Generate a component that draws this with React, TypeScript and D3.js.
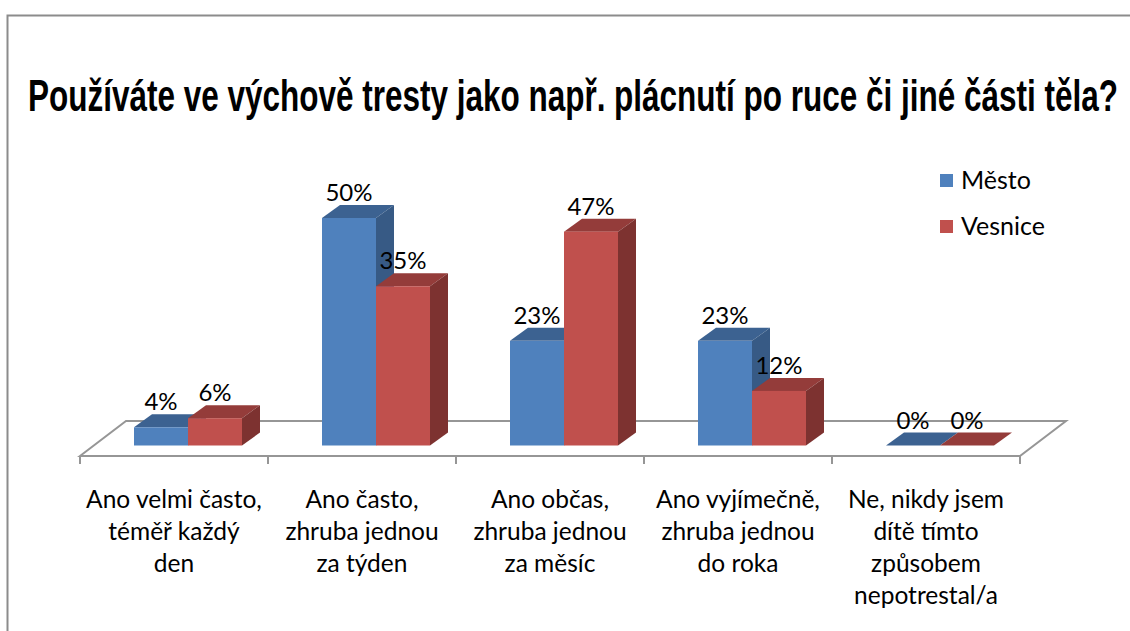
import React, { useLayoutEffect, useRef } from "react";
import * as d3 from "d3";

const titleText = "Používáte ve výchově tresty jako např. plácnutí po ruce či jiné části těla?";
const categories = ["c1", "c2", "c3", "c4", "c5"];
const categoryLines = [
  ["Ano velmi často,", "téměř každý", "den"],
  ["Ano často,", "zhruba jednou", "za týden"],
  ["Ano občas,", "zhruba jednou", "za měsíc"],
  ["Ano vyjímečně,", "zhruba jednou", "do roka"],
  ["Ne, nikdy jsem", "dítě tímto", "způsobem", "nepotrestal/a"],
];
const seriesNames = ["Město", "Vesnice"];
const mesto = [4, 50, 23, 23, 0];
const vesnice = [6, 35, 47, 12, 0];
const seriesValues = [mesto, vesnice];
const front = ["#4f81bd", "#c0504d"];
const top = ["#3c6291", "#943c3a"];
const side = ["#375a85", "#7d3230"];

const W = 1130, H = 631;
const FONT = "Lato, Carlito, 'Open Sans', sans-serif";
const x = d3.scaleBand<string>().domain(categories).range([80, 1020]).paddingInner(0).paddingOuter(0);
const y = d3.scaleLinear().domain([0, 50]).range([445.5, 218]);
const barW = 54, dx = 18, dy = 13, depthShift = 14;
const floorFrontY = 456, floorBackY = 421, floorDx = 46;
const poly = (p: [number, number][]) => (d3.line()(p) as string) + "Z";

export default function App() {
  const titleRef = useRef<SVGTextElement>(null);
  useLayoutEffect(() => {
    const el = titleRef.current;
    if (!el) return;
    const fit = () => {
      const len = el.getComputedTextLength();
      el.setAttribute("transform", `translate(28,111) scale(${1090 / len},1)`);
    };
    fit();
    document.fonts?.ready.then(fit);
  }, []);
  const ticks = [...categories.map((c) => x(c) as number), 1020];
  return (
    <svg width={W} height={H} style={{ position: "absolute", left: 0, top: 0, background: "#fff" }}>
      <path d={`M7.5 ${H}V15.5H${W}`} fill="none" stroke="#8c8c8c" strokeWidth={2} />
      <text ref={titleRef} x={0} y={0} fontFamily="'Liberation Sans Narrow', 'Liberation Sans', Arial, sans-serif" fontWeight={700} fontSize={44}
        fill="#000">{titleText}</text>

      <path d={`M80 ${floorFrontY}L${80 + floorDx} ${floorBackY}H${1020 + floorDx}L1020 ${floorFrontY}Z`}
        fill="none" stroke="#969696" strokeWidth={2} />
      {ticks.map((t) => <line key={t} x1={t} x2={t} y1={floorFrontY} y2={464} stroke="#969696" strokeWidth={2} />)}

      {categories.map((c, i) => {
        const x0 = (x(c) as number) + (x.bandwidth() - 2 * barW) / 2 + depthShift;
        return (
          <g key={c}>
            {seriesValues.map((vals, s) => {
              const v = vals[i];
              const l = x0 + s * barW, r = l + barW, b = y(0), t = y(v);
              return (
                <g key={s}>
                  <path d={poly([[l, t], [l + dx, t - dy], [r + dx, t - dy], [r, t]])} fill={top[s]} />
                  {v > 0 && <path d={poly([[r, t], [r + dx, t - dy], [r + dx, b - dy], [r, b]])} fill={side[s]} />}
                  {v > 0 && <rect x={l} y={t} width={barW} height={b - t} fill={front[s]} />}
                </g>
              );
            })}
            {seriesValues.map((vals, s) => {
              const v = vals[i];
              const cx = x0 + s * barW + barW / 2;
              return (
                <text key={s} x={cx} y={y(v) - 17} textAnchor="middle" fontFamily={FONT} fontSize={24} fill="#000">{v}%</text>
              );
            })}
            {categoryLines[i].map((ln, k) => (
              <text key={k} x={(x(c) as number) + x.bandwidth() / 2} y={508 + k * 32} textAnchor="middle"
                fontFamily={FONT} fontSize={24.5} fill="#000">{ln}</text>
            ))}
          </g>
        );
      })}

      {seriesNames.map((n, s) => (
        <g key={n}>
          <rect x={940} y={174 + s * 46} width={13} height={13} fill={front[s]} />
          <text x={961} y={189 + s * 46} fontFamily={FONT} fontSize={25} fill="#000">{n}</text>
        </g>
      ))}
    </svg>
  );
}
